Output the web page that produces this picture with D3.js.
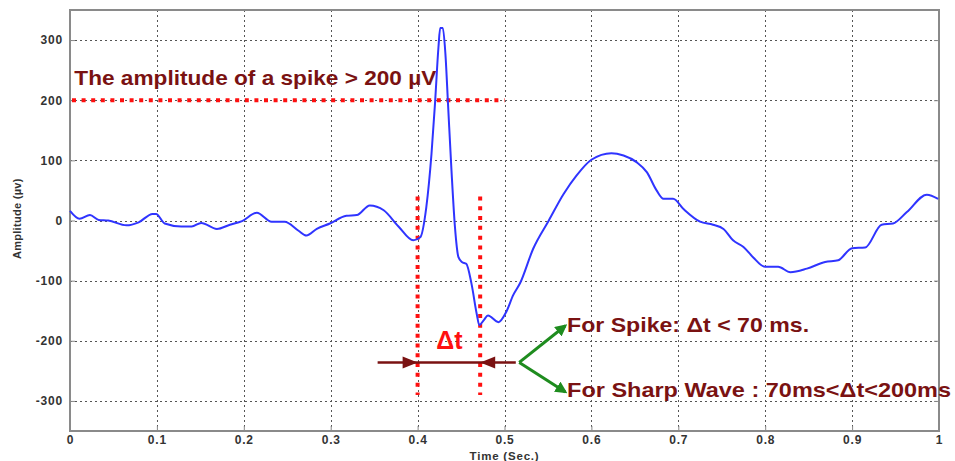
<!DOCTYPE html>
<html><head><meta charset="utf-8">
<script src="https://cdn.jsdelivr.net/npm/d3@7"></script>
<style>
body{margin:0;background:#fff}
text{font-family:"Liberation Sans",Arial,sans-serif}
</style>
</head><body>
<svg id="chart" width="955" height="461"></svg>
<script>
// ---- data ----
const timeSec = [0.000,0.011,0.023,0.033,0.044,0.065,0.079,0.095,0.099,0.109,0.128,0.140,0.151,0.169,0.184,0.198,
  0.215,0.232,0.247,0.263,0.272,0.284,0.299,0.318,0.330,0.345,0.361,0.378,0.395,0.403,0.410,0.416,0.420,0.424,
  0.426,0.429,0.432,0.435,0.439,0.443,0.447,0.451,0.456,0.462,0.468,0.471,0.476,0.481,0.493,0.502,0.510,0.518,
  0.533,0.551,0.568,0.583,0.600,0.623,0.637,0.652,0.664,0.675,0.683,0.694,0.706,0.725,0.740,0.752,0.763,0.775,
  0.786,0.800,0.815,0.829,0.848,0.869,0.884,0.900,0.915,0.934,0.947,0.963,0.986,0.999];
const amplitude = [16,3,9,1,0,-8,-3,11,11,-5,-10,-10,-4,-14,-7,-1,
  13,-2,-2,-17,-25,-14,-5,8,9,25,17,-10,-33,-28,22,111,194,288,
  320,320,277,194,83,-11,-61,-69,-72,-105,-155,-174,-166,-158,-169,-152,-124,-104,
  -47,0,44,75,101,112,108,97,80,50,36,36,19,-2,-7,-14,-33,-44,
  -61,-77,-77,-86,-80,-69,-66,-46,-45,-7,-5,14,43,36];
const xTicks = [0,0.1,0.2,0.3,0.4,0.5,0.6,0.7,0.8,0.9,1];
const xTickLabels = ["0","0.1","0.2","0.3","0.4","0.5","0.6","0.7","0.8","0.9","1"];
const yTicks = [-300,-200,-100,0,100,200,300];
const yTickLabels = ["-300","-200","-100","0","100","200","300"];
const xLabel = "Time (Sec.)";
const yLabel = "Amplitude (µv)";
// annotations (data units)
const thresholdValue = 200, thresholdEnd = 0.5;
const dtMarkers = [0.4, 0.472];
const dtMarkerRange = [40, -290];
const dtArrow = {y: -236, from: 0.354, to: 0.513};
const branchStart = [0.517, -236];
const branchEnds = [[0.570, -175], [0.570, -285]];
const titleText = "The amplitude of a spike > 200 µV";
const dtText = "Δt";
const rules = ["For Spike: Δt  < 70 ms.", "For Sharp Wave : 70ms<Δt<200ms"];

// ---- layout ----
const W = 955, H = 461;
const m = {left: 70, right: 16, top: 10, bottom: 30};
const svg = d3.select("#chart");
const x = d3.scaleLinear().domain([0, 1]).range([m.left, W - m.right]);
const y = d3.scaleLinear().domain([-350, 350]).range([H - m.bottom, m.top]);
const iw = W - m.left - m.right, ih = H - m.top - m.bottom;

svg.append("rect").attr("width", W).attr("height", H).attr("fill", "#fff");

// grid
const grid = svg.append("g").attr("stroke", "#555").attr("stroke-width", 1).attr("stroke-dasharray", "2,3");
grid.selectAll(".gx").data(xTicks.slice(1, -1)).join("line")
  .attr("x1", d => Math.round(x(d)) + 0.5).attr("x2", d => Math.round(x(d)) + 0.5)
  .attr("y1", m.top).attr("y2", H - m.bottom);
grid.selectAll(".gy").data(yTicks).join("line")
  .attr("y1", d => Math.round(y(d)) + 0.5).attr("y2", d => Math.round(y(d)) + 0.5)
  .attr("x1", m.left).attr("x2", W - m.right);

// axes
const labelStyle = s => s.attr("font-weight", "bold").attr("font-size", 12).attr("fill", "#333").attr("letter-spacing", "0.8px");
const xAxis = svg.append("g").attr("transform", `translate(0,${H - m.bottom})`)
  .call(d3.axisBottom(x).tickValues(xTicks).tickFormat((d, i) => xTickLabels[i]).tickSizeInner(-5).tickSizeOuter(0).tickPadding(4));
xAxis.select(".domain").remove();
xAxis.selectAll("line").attr("stroke", "#888");
xAxis.selectAll("text").call(labelStyle);
const yAxis = svg.append("g").attr("transform", `translate(${m.left},0)`)
  .call(d3.axisLeft(y).tickValues(yTicks).tickFormat((d, i) => yTickLabels[i]).tickSizeInner(-5).tickSizeOuter(0).tickPadding(7));
yAxis.select(".domain").remove();
yAxis.selectAll("line").attr("stroke", "#888");
yAxis.selectAll("text").call(labelStyle);
// right-side ticks
svg.append("g").attr("transform", `translate(${W - m.right},0)`)
  .call(d3.axisRight(y).tickValues(yTicks).tickFormat("").tickSizeInner(-5).tickSizeOuter(0))
  .call(g => { g.select(".domain").remove(); g.selectAll("line").attr("stroke", "#888"); });

// frame
svg.append("rect").attr("x", m.left).attr("y", m.top).attr("width", iw).attr("height", ih)
  .attr("fill", "none").attr("stroke", "#8a8a8a").attr("stroke-width", 2);

svg.append("text").attr("x", x(0.5)).attr("y", H - 1).attr("text-anchor", "middle")
  .call(labelStyle).attr("font-size", 11.5).text(xLabel);
svg.append("text").attr("transform", `translate(21,${y(3)}) rotate(-90)`).attr("text-anchor", "middle")
  .call(labelStyle).attr("font-size", 11).attr("letter-spacing", "0.3px").text(yLabel);

// threshold line
const red = "#ff1010", dark = "#7a1212", green = "#1e8c1e";
svg.append("line").attr("x1", x(0) + 2).attr("x2", x(thresholdEnd)).attr("y1", y(thresholdValue)).attr("y2", y(thresholdValue))
  .attr("stroke", red).attr("stroke-width", 4).attr("stroke-dasharray", "4,5.6");
// dt markers
svg.selectAll(".dtm").data(dtMarkers).join("line")
  .attr("x1", d => x(d)).attr("x2", d => x(d)).attr("y1", y(dtMarkerRange[0])).attr("y2", y(dtMarkerRange[1]))
  .attr("stroke", red).attr("stroke-width", 4).attr("stroke-dasharray", "4,5.8");

// signal
const line = d3.line().x(d => x(d[0])).y(d => y(d[1])).curve(d3.curveMonotoneX);
svg.append("path").datum(timeSec.map((t, i) => [t, amplitude[i]]))
  .attr("d", line).attr("fill", "none").attr("stroke", "#2f34ff").attr("stroke-width", 2).attr("stroke-linejoin", "round");

// dt arrow
const ay = y(dtArrow.y);
svg.append("line").attr("x1", x(dtArrow.from)).attr("x2", x(dtArrow.to)).attr("y1", ay).attr("y2", ay)
  .attr("stroke", dark).attr("stroke-width", 2.5);
const tipL = x(dtMarkers[0]), tipR = x(dtMarkers[1]);
svg.append("path").attr("d", `M${tipL},${ay} L${tipL - 15},${ay - 6} L${tipL - 15},${ay + 6} Z`).attr("fill", dark);
svg.append("path").attr("d", `M${tipR},${ay} L${tipR + 15},${ay - 6} L${tipR + 15},${ay + 6} Z`).attr("fill", dark);

// green branches
const defs = svg.append("defs");
defs.append("marker").attr("id", "gh").attr("viewBox", "0 0 10 10").attr("refX", 8).attr("refY", 5)
  .attr("markerWidth", 4).attr("markerHeight", 4).attr("orient", "auto")
  .append("path").attr("d", "M0,0 L10,5 L0,10 Z").attr("fill", green);
svg.selectAll(".br").data(branchEnds).join("line")
  .attr("x1", x(branchStart[0])).attr("y1", y(branchStart[1]))
  .attr("x2", d => x(d[0])).attr("y2", d => y(d[1]))
  .attr("stroke", green).attr("stroke-width", 3).attr("marker-end", "url(#gh)");

// texts
svg.append("text").attr("x", x(0.005)).attr("y", y(226)).attr("fill", dark).attr("font-weight", "bold")
  .attr("font-size", 21).attr("textLength", 362).attr("lengthAdjust", "spacingAndGlyphs").text(titleText);
svg.append("text").attr("x", x(0.4365)).attr("y", y(-213)).attr("text-anchor", "middle").attr("fill", red)
  .attr("font-weight", "bold").attr("font-size", 25).text(dtText);
svg.append("text").attr("x", x(0.572)).attr("y", y(-186)).attr("fill", dark).attr("font-weight", "bold")
  .attr("font-size", 21).attr("textLength", 242).attr("lengthAdjust", "spacingAndGlyphs").text(rules[0]);
svg.append("text").attr("x", x(0.572)).attr("y", y(-294)).attr("fill", dark).attr("font-weight", "bold")
  .attr("font-size", 21).attr("textLength", 384).attr("lengthAdjust", "spacingAndGlyphs").text(rules[1]);
</script>
</body></html>
